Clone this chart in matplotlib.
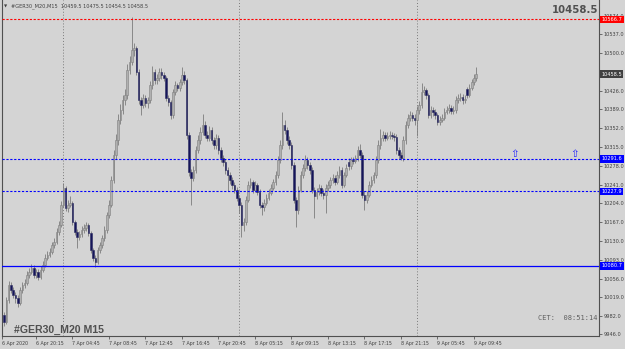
import matplotlib
matplotlib.use("Agg")
import matplotlib.pyplot as plt
import matplotlib.transforms as mtransforms
import numpy as np

# ---------------- data (M15 candles) ----------------
opens = [
    9985, 9971, 10014, 10044, 10034, 10024, 10018, 10008, 10034, 10044,
    10048, 10063, 10069, 10077, 10063, 10069, 10059, 10073, 10083, 10097,
    10103, 10109, 10122, 10128, 10148, 10162, 10201, 10235, 10195, 10201,
    10205, 10168, 10148, 10138, 10144, 10152, 10156, 10162, 10146, 10112,
    10097, 10089, 10112, 10122, 10136, 10152, 10181, 10201, 10250, 10300,
    10329, 10369, 10388, 10408, 10418, 10467, 10483, 10506, 10510, 10463,
    10408, 10398, 10412, 10402, 10408, 10437, 10463, 10447, 10451, 10463,
    10457, 10451, 10412, 10404, 10378, 10424, 10437, 10432, 10443, 10457,
    10447, 10339, 10266, 10254, 10270, 10310, 10329, 10345, 10359, 10339,
    10333, 10349, 10329, 10319, 10333, 10310, 10294, 10286, 10270, 10260,
    10250, 10240, 10231, 10215, 10201, 10162, 10168, 10211, 10240, 10246,
    10231, 10240, 10227, 10201, 10197, 10205, 10215, 10225, 10235, 10246,
    10260, 10290, 10319, 10359, 10349, 10329, 10319, 10280, 10211, 10191,
    10231, 10260, 10274, 10290, 10280, 10270, 10231, 10219, 10227, 10235,
    10225, 10221, 10235, 10240, 10250, 10254, 10246, 10260, 10270, 10240,
    10260, 10286, 10278, 10290, 10288, 10294, 10310, 10300, 10221, 10211,
    10221, 10240, 10250, 10260, 10290, 10319, 10333, 10339, 10333, 10337,
    10339, 10337, 10335, 10310, 10300, 10294, 10329, 10359, 10373, 10378,
    10373, 10369, 10388, 10398, 10424, 10428, 10418, 10378, 10388, 10384,
    10378, 10365, 10369, 10373, 10384, 10388, 10392, 10386, 10388, 10408,
    10412, 10414, 10408, 10430, 10418, 10432, 10443, 10451,
]
highs = [
    9990, 10020, 10052, 10050, 10040, 10030, 10024, 10040, 10050, 10056,
    10070, 10076, 10085, 10082, 10075, 10074, 10080, 10090, 10104, 10110,
    10116, 10128, 10136, 10155, 10170, 10208, 10244, 10238, 10210, 10218,
    10208, 10172, 10154, 10150, 10160, 10164, 10168, 10166, 10150, 10116,
    10102, 10118, 10128, 10142, 10160, 10188, 10210, 10258, 10310, 10340,
    10380, 10400, 10418, 10430, 10478, 10495, 10571, 10520, 10514, 10468,
    10414, 10420, 10418, 10414, 10446, 10474, 10468, 10458, 10470, 10470,
    10462, 10455, 10418, 10408, 10430, 10445, 10442, 10450, 10472, 10464,
    10452, 10344, 10272, 10278, 10318, 10338, 10354, 10380, 10366, 10346,
    10356, 10354, 10334, 10340, 10338, 10316, 10300, 10292, 10276, 10266,
    10256, 10246, 10236, 10220, 10206, 10176, 10218, 10248, 10254, 10250,
    10248, 10244, 10232, 10206, 10212, 10222, 10232, 10242, 10252, 10268,
    10298, 10328, 10384, 10368, 10354, 10336, 10324, 10286, 10216, 10238,
    10268, 10282, 10300, 10296, 10286, 10276, 10236, 10234, 10242, 10240,
    10232, 10242, 10248, 10256, 10262, 10260, 10268, 10278, 10275, 10266,
    10282, 10294, 10296, 10296, 10300, 10318, 10322, 10306, 10228, 10228,
    10248, 10258, 10266, 10298, 10328, 10350, 10346, 10344, 10344, 10346,
    10344, 10342, 10340, 10316, 10306, 10336, 10366, 10380, 10386, 10384,
    10380, 10395, 10406, 10441, 10436, 10432, 10422, 10396, 10394, 10390,
    10382, 10376, 10380, 10392, 10396, 10400, 10398, 10396, 10416, 10420,
    10422, 10420, 10418, 10434, 10440, 10450, 10458, 10473,
]
lows = [
    9962, 9966, 10008, 10028, 10018, 10008, 10000, 10004, 10028, 10038,
    10044, 10058, 10064, 10058, 10058, 10054, 10055, 10068, 10079, 10092,
    10098, 10104, 10116, 10124, 10142, 10158, 10196, 10190, 10188, 10196,
    10162, 10142, 10116, 10132, 10138, 10146, 10150, 10140, 10106, 10090,
    10079, 10084, 10106, 10116, 10130, 10146, 10176, 10196, 10244, 10292,
    10320, 10360, 10380, 10398, 10410, 10458, 10476, 10494, 10456, 10400,
    10378, 10392, 10394, 10392, 10402, 10430, 10440, 10440, 10446, 10450,
    10445, 10405, 10396, 10370, 10372, 10418, 10425, 10426, 10438, 10440,
    10330, 10258, 10201, 10248, 10264, 10304, 10322, 10338, 10332, 10326,
    10326, 10322, 10312, 10312, 10302, 10286, 10278, 10262, 10228, 10242,
    10232, 10224, 10208, 10185, 10138, 10150, 10162, 10206, 10234, 10224,
    10226, 10220, 10194, 10182, 10190, 10200, 10210, 10220, 10230, 10240,
    10254, 10284, 10312, 10340, 10322, 10312, 10272, 10204, 10158, 10184,
    10226, 10254, 10268, 10272, 10262, 10224, 10176, 10212, 10220, 10218,
    10212, 10186, 10228, 10234, 10244, 10240, 10242, 10254, 10234, 10236,
    10256, 10270, 10272, 10282, 10284, 10288, 10294, 10214, 10191, 10204,
    10216, 10236, 10244, 10254, 10284, 10312, 10326, 10326, 10328, 10330,
    10330, 10326, 10302, 10292, 10290, 10288, 10322, 10352, 10366, 10366,
    10358, 10336, 10380, 10392, 10418, 10410, 10372, 10372, 10376, 10370,
    10358, 10358, 10364, 10368, 10380, 10382, 10380, 10380, 10382, 10402,
    10406, 10400, 10402, 10412, 10414, 10428, 10438, 10446,
]
closes = [
    9971, 10014, 10044, 10034, 10024, 10018, 10008, 10034, 10044, 10048,
    10063, 10069, 10077, 10063, 10069, 10059, 10073, 10083, 10097, 10103,
    10109, 10122, 10128, 10148, 10162, 10201, 10235, 10195, 10201, 10205,
    10168, 10148, 10138, 10144, 10152, 10156, 10162, 10146, 10112, 10097,
    10089, 10112, 10122, 10136, 10152, 10181, 10201, 10250, 10300, 10329,
    10369, 10388, 10408, 10418, 10467, 10483, 10506, 10510, 10463, 10408,
    10398, 10412, 10402, 10408, 10437, 10463, 10447, 10451, 10463, 10457,
    10451, 10412, 10404, 10378, 10424, 10437, 10432, 10443, 10457, 10447,
    10339, 10266, 10254, 10270, 10310, 10329, 10345, 10359, 10339, 10333,
    10349, 10329, 10319, 10333, 10310, 10294, 10286, 10270, 10260, 10250,
    10240, 10231, 10215, 10201, 10162, 10168, 10211, 10240, 10246, 10231,
    10240, 10227, 10201, 10197, 10205, 10215, 10225, 10235, 10246, 10260,
    10290, 10319, 10359, 10349, 10329, 10319, 10280, 10211, 10191, 10231,
    10260, 10274, 10290, 10280, 10270, 10231, 10219, 10227, 10235, 10225,
    10221, 10235, 10240, 10250, 10254, 10246, 10260, 10270, 10240, 10260,
    10274, 10278, 10290, 10288, 10294, 10310, 10300, 10221, 10211, 10221,
    10240, 10250, 10260, 10290, 10319, 10333, 10339, 10333, 10337, 10339,
    10337, 10335, 10310, 10300, 10294, 10329, 10359, 10373, 10378, 10373,
    10369, 10388, 10398, 10424, 10428, 10418, 10378, 10388, 10384, 10378,
    10365, 10369, 10373, 10384, 10388, 10392, 10386, 10388, 10408, 10412,
    10414, 10408, 10410, 10418, 10432, 10443, 10451, 10458.5,
]

x_tick_pos = [-0.9, 14, 30, 46, 62, 78, 94, 110, 126, 142, 158, 174, 190, 206]
x_tick_labels = ["6 Apr 2020", "6 Apr 20:15", "7 Apr 04:45", "7 Apr 08:45",
                 "7 Apr 12:45", "7 Apr 16:45", "7 Apr 20:45", "8 Apr 05:15",
                 "8 Apr 09:15", "8 Apr 13:15", "8 Apr 17:15", "8 Apr 21:15",
                 "9 Apr 05:45", "9 Apr 09:45"]
y_ticks = [10574.0, 10537.0, 10500.0, 10463.0, 10426.0, 10389.0, 10352.0,
           10315.0, 10278.0, 10241.0, 10204.0, 10167.0, 10130.0, 10093.0,
           10056.0, 10019.0, 9982.0, 9946.0]
hidden_tick = 10463.0  # covered by the current-price box in the reference
separator_bars = [26, 103, 181]
red_level = 10566.7
blue_dotted_levels = [10291.6, 10227.9]
blue_solid_level = 10080.7
last_price = 10458.5
arrow_bars = [224, 250]
arrow_prices = [10301, 10301]
header = "#GER30_M20,M15  10459.5 10475.5 10454.5 10458.5"

# ---------------- drawing ----------------
BG = "#d4d4d4"
W, H = 625, 349
fig = plt.figure(figsize=(W / 100, H / 100), dpi=100)
fig.patch.set_facecolor(BG)
ax = fig.add_axes([2 / W, 13 / H, 597 / W, 336 / H])
ax.set_facecolor(BG)

o = np.array(opens, dtype=float)
h = np.array(highs, dtype=float)
l = np.array(lows, dtype=float)
c = np.array(closes, dtype=float)
idx = np.arange(len(c))
up = c >= o

ax.vlines(idx, l, h, color="#7c7c7c", lw=0.6, zorder=3)
bb = np.minimum(o, c)
bh = np.maximum(np.abs(c - o), 1.5)
ax.bar(idx[up], bh[up], bottom=bb[up], width=0.7, color="#b0b0b0",
       edgecolor="#808080", lw=0.4, zorder=4)
ax.bar(idx[~up], bh[~up], bottom=bb[~up], width=0.7, color="#15155a",
       edgecolor="#2a2a60", lw=0.4, zorder=4)

for b in separator_bars:
    ax.axvline(b, color="#7a7a7a", ls=(0, (1, 2)), lw=0.7, zorder=2)

ax.axhline(red_level, color="#ff0000", ls=(0, (2, 1.5)), lw=0.8, zorder=5)
for lv in blue_dotted_levels:
    ax.axhline(lv, color="#0000ff", ls=(0, (2, 1.5)), lw=0.8, zorder=5)
ax.axhline(blue_solid_level, color="#0000ff", lw=0.9, zorder=5)

for xb, yp in zip(arrow_bars, arrow_prices):
    ax.text(xb, yp, "\u21e7", color="#2020ff", fontsize=7.5, ha="center",
            va="center", family="DejaVu Sans", zorder=6)

ax.set_xlim(-0.9, 260.8)
ax.set_ylim(9942.8, 10604.7)

ax.yaxis.tick_right()
ax.set_yticks(y_ticks)
ax.set_yticklabels(["" if v == hidden_tick else f"{v:.1f}" for v in y_ticks])
ax.tick_params(axis="y", length=2, width=0.5, pad=1.5, labelsize=3.6,
               colors="#404040")
ax.set_xticks(x_tick_pos)
ax.set_xticklabels(x_tick_labels, ha="left")
ax.tick_params(axis="x", length=2, width=0.5, pad=1.5, labelsize=3.4,
               colors="#404040")
for s in ["left", "right", "bottom"]:
    ax.spines[s].set_color("#505050")
    ax.spines[s].set_linewidth(0.8)
ax.spines["top"].set_visible(False)

trans = mtransforms.blended_transform_factory(ax.transAxes, ax.transData)
boxes = [(red_level, "#ff0000"), (last_price, "#404040"),
         (blue_dotted_levels[0], "#0000ff"), (blue_dotted_levels[1], "#0000ff"),
         (blue_solid_level, "#0000ff")]
for lv, col in boxes:
    ax.text(1.0 + 2.5 / 597, lv, f"{lv:.1f}", transform=trans, ha="left",
            va="center", fontsize=3.6, color="white", clip_on=False, zorder=10,
            bbox=dict(boxstyle="square,pad=0.25", fc=col, ec="none"))

fig.text(4 / W, 1 - 6 / H, "\u25bc", fontsize=3, color="#404040", va="center")
fig.text(11 / W, 1 - 6 / H, header, fontsize=3.6, color="#404040", va="center")
fig.text(598 / W, 1 - 10 / H, f"{last_price:.1f}", fontsize=7.3,
         fontweight="bold", color="#505050", ha="right", va="center")
fig.text(14 / W, 1 - 330 / H, "#GER30_M20 M15", fontsize=7.6,
         family="Liberation Sans", fontweight="bold", color="#505050",
         va="center")
fig.text(597 / W, 1 - 318 / H, "CET:  08:51:14", fontsize=5,
         family="DejaVu Sans Mono", color="#606060", ha="right", va="center")

fig.savefig("out.png", dpi=100, facecolor=BG)
